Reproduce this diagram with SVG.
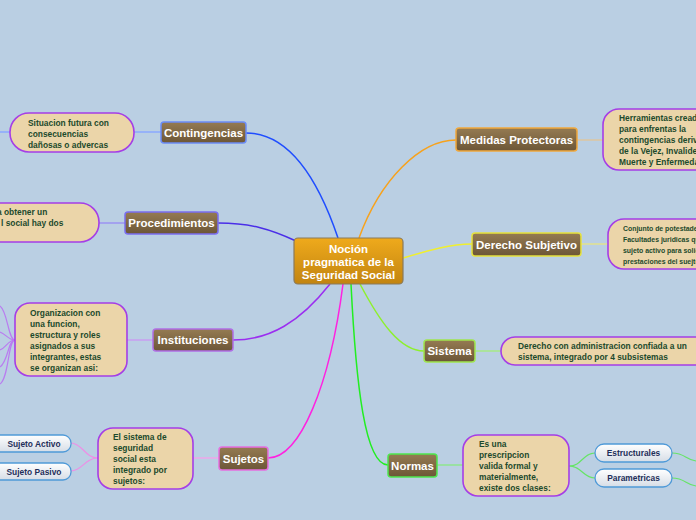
<svg xmlns="http://www.w3.org/2000/svg" width="696" height="520" viewBox="0 0 696 520">
<defs>
<linearGradient id="gBr" x1="0" y1="0" x2="0" y2="1"><stop offset="0" stop-color="#957b52"/><stop offset="1" stop-color="#6c5637"/></linearGradient>
<linearGradient id="gC" x1="0" y1="0" x2="0" y2="1"><stop offset="0" stop-color="#efaa1c"/><stop offset="1" stop-color="#c28410"/></linearGradient>
<linearGradient id="gP" x1="0" y1="0" x2="0" y2="1"><stop offset="0" stop-color="#ffffff"/><stop offset="1" stop-color="#d6dde6"/></linearGradient>
<style>
.br{fill:url(#gBr);stroke-width:1.5}
.bt{font-family:"Liberation Sans",Arial,sans-serif;font-weight:bold;font-size:11.5px;fill:#ffffff;text-anchor:middle}
.bub{fill:#ebd5a9;stroke:#a53ee6;stroke-width:1.6}
.tx{font-family:"Liberation Sans",Arial,sans-serif;font-weight:bold;font-size:8.4px;fill:#1c4a2c}
.sm{font-size:6.9px}
.pill{fill:url(#gP);stroke:#4f9ad8;stroke-width:1.3}
.pt{font-family:"Liberation Sans",Arial,sans-serif;font-weight:bold;font-size:8.4px;fill:#1f2f5a;text-anchor:middle}
.c{fill:none;stroke-width:1.5}
.l{fill:none;stroke-width:1.5}
</style>
</defs>
<rect width="696" height="520" fill="#bacfe3"/>
<g id="connectors">
<path class="c" d="M338,238 C320,185 292,133 246,133" stroke="#1f4dff"/>
<path class="c" d="M359,238 C380,180 420,140 456,140" stroke="#f7a21c"/>
<path class="c" d="M296,241 C270,229 250,223 218,223" stroke="#4a2ee8"/>
<path class="c" d="M330,284 C300,322 270,340 233,340" stroke="#9b2ef0"/>
<path class="c" d="M343,284 C330,385 300,458 268,458" stroke="#ff22e0"/>
<path class="c" d="M351,284 C356,385 365,465 388,465" stroke="#22ee22"/>
<path class="c" d="M360,284 C380,322 400,351 424,351" stroke="#8ef02e"/>
<path class="c" d="M403,258 C430,250 450,244 472,244" stroke="#f0ef2e"/>
<path class="l" d="M161,132 L134,132" stroke="#8aa8ff"/>
<path class="l" d="M10,132 L0,132" stroke="#8aa8ff"/>
<path class="l" d="M125,223 L99,223" stroke="#9b93f2"/>
<path class="l" d="M153,340 L127,340" stroke="#c89ef2"/>
<path class="l" d="M219,458 L193,458" stroke="#eea6ea"/>
<path class="l" d="M437,465 L463,465" stroke="#8ee68e"/>
<path class="l" d="M475,351 L501,351" stroke="#a6ea86"/>
<path class="l" d="M581,244 L608,244" stroke="#e2e28e"/>
<path class="l" d="M577,140 L603,140" stroke="#dcc6a0"/>
<g stroke="#b97cf0" fill="none" stroke-width="1.2">
<path d="M15,340 C8,340 8,312 0,306"/>
<path d="M15,340 C8,340 6,334 0,332"/>
<path d="M15,340 C8,340 6,348 0,350"/>
<path d="M15,340 C8,340 8,362 0,367"/>
<path d="M15,340 C8,340 9,378 0,384"/>
</g>
<g stroke="#ee8ee6" fill="none" stroke-width="1.2">
<path d="M98,458 C85,458 82,443 71,443"/>
<path d="M98,458 C85,458 82,471 71,471"/>
</g>
<g stroke="#66e466" fill="none" stroke-width="1.2">
<path d="M569,466 C582,466 583,453 595,453"/>
<path d="M569,466 C582,466 583,478 595,478"/>
<path d="M672,453 C685,453 686,460 696,461"/>
<path d="M672,478 C685,478 686,485 696,486"/>
</g>
</g>
<g id="central">
<rect x="294" y="238" width="109" height="46" rx="4" fill="url(#gC)" stroke="#8a7a5a" stroke-width="1.2"/>
<text class="bt" x="348.5" y="253">Noción</text>
<text class="bt" x="348.5" y="266">pragmatica de la</text>
<text class="bt" x="348.5" y="279">Seguridad Social</text>
</g>
<g id="contingencias">
<rect class="br" x="161" y="122" width="85" height="21" rx="3" stroke="#6b8cf6"/>
<text class="bt" x="203.5" y="136.5">Contingencias</text>
</g>
<g id="contingencias-bubble">
<rect class="bub" x="10" y="113" width="124" height="39" rx="19"/>
<text class="tx" x="28" y="125.5">Situacion futura con</text>
<text class="tx" x="28" y="136.5">consecuencias</text>
<text class="tx" x="28" y="147.5">dañosas o advercas</text>
</g>
<g id="procedimientos">
<rect class="br" x="125" y="212" width="93" height="22" rx="3" stroke="#7a6ef0"/>
<text class="bt" x="171.5" y="227">Procedimientos</text>
</g>
<g id="procedimientos-bubble">
<rect class="bub" x="-30" y="203" width="129" height="39" rx="19"/>
<text class="tx" x="-3" y="215">a obtener un</text>
<text class="tx" x="1" y="226">l social hay dos</text>
</g>
<g id="instituciones">
<rect class="br" x="153" y="329" width="80" height="22" rx="3" stroke="#b06ee6"/>
<text class="bt" x="193" y="344">Instituciones</text>
</g>
<g id="instituciones-bubble">
<rect class="bub" x="15" y="303" width="112" height="73" rx="15"/>
<text class="tx" x="30" y="316">Organizacion con</text>
<text class="tx" x="30" y="327">una funcion,</text>
<text class="tx" x="30" y="338">estructura y roles</text>
<text class="tx" x="30" y="349">asignados a sus</text>
<text class="tx" x="30" y="360">integrantes, estas</text>
<text class="tx" x="30" y="371">se organizan asi:</text>
</g>
<g id="sujetos">
<rect class="br" x="219" y="447" width="49" height="23" rx="3" stroke="#e66ee0"/>
<text class="bt" x="243.5" y="462.5">Sujetos</text>
</g>
<g id="sujetos-bubble">
<rect class="bub" x="98" y="428" width="95" height="61" rx="15"/>
<text class="tx" x="113" y="440">El sistema de</text>
<text class="tx" x="113" y="451">seguridad</text>
<text class="tx" x="113" y="462">social esta</text>
<text class="tx" x="113" y="473">integrado por</text>
<text class="tx" x="113" y="484">sujetos:</text>
</g>
<g id="sujeto-activo">
<rect class="pill" x="-10" y="435" width="81" height="17" rx="8"/>
<text class="pt" x="34" y="446.5">Sujeto Activo</text>
</g>
<g id="sujeto-pasivo">
<rect class="pill" x="-10" y="463" width="81" height="17" rx="8"/>
<text class="pt" x="34" y="474.5">Sujeto Pasivo</text>
</g>
<g id="medidas">
<rect class="br" x="456" y="128" width="121" height="23" rx="3" stroke="#f0a83c"/>
<text class="bt" x="516.5" y="143.5">Medidas Protectoras</text>
</g>
<g id="medidas-bubble">
<rect class="bub" x="603" y="109" width="120" height="61" rx="16"/>
<text class="tx" x="619" y="121">Herramientas cread</text>
<text class="tx" x="619" y="132">para enfrentas la</text>
<text class="tx" x="619" y="143">contingencias deriv</text>
<text class="tx" x="619" y="154">de la Vejez, Invalide</text>
<text class="tx" x="619" y="165">Muerte y Enfermeda</text>
</g>
<g id="derecho">
<rect class="br" x="472" y="233" width="109" height="23" rx="3" stroke="#e6e23c"/>
<text class="bt" x="526.5" y="248.5">Derecho Subjetivo</text>
</g>
<g id="derecho-bubble">
<rect class="bub" x="608" y="219" width="120" height="50" rx="16"/>
<text class="tx sm" x="623" y="230.5">Conjunto de potestade</text>
<text class="tx sm" x="623" y="241.5">Facultades juridicas qu</text>
<text class="tx sm" x="623" y="252.5">sujeto activo para solic</text>
<text class="tx sm" x="623" y="263.5">prestaciones del suejto</text>
</g>
<g id="sistema">
<rect class="br" x="424" y="340" width="51" height="22" rx="3" stroke="#9ee64e"/>
<text class="bt" x="449.5" y="355">Sistema</text>
</g>
<g id="sistema-bubble">
<rect class="bub" x="501" y="337" width="220" height="28" rx="14"/>
<text class="tx" x="518" y="349">Derecho con administracion confiada a un</text>
<text class="tx" x="518" y="360">sistema, integrado por 4 subsistemas</text>
</g>
<g id="normas">
<rect class="br" x="388" y="454" width="49" height="23" rx="3" stroke="#4ee64e"/>
<text class="bt" x="412.5" y="469.5">Normas</text>
</g>
<g id="normas-bubble">
<rect class="bub" x="463" y="435" width="106" height="61" rx="15"/>
<text class="tx" x="479" y="447">Es una</text>
<text class="tx" x="479" y="458">prescripcion</text>
<text class="tx" x="479" y="469">valida formal y</text>
<text class="tx" x="479" y="480">materialmente,</text>
<text class="tx" x="479" y="491">existe dos clases:</text>
</g>
<g id="estructurales">
<rect class="pill" x="595" y="444" width="77" height="18" rx="9"/>
<text class="pt" x="633.5" y="456">Estructurales</text>
</g>
<g id="parametricas">
<rect class="pill" x="595" y="469" width="77" height="18" rx="9"/>
<text class="pt" x="633.5" y="481">Parametricas</text>
</g>
</svg>
